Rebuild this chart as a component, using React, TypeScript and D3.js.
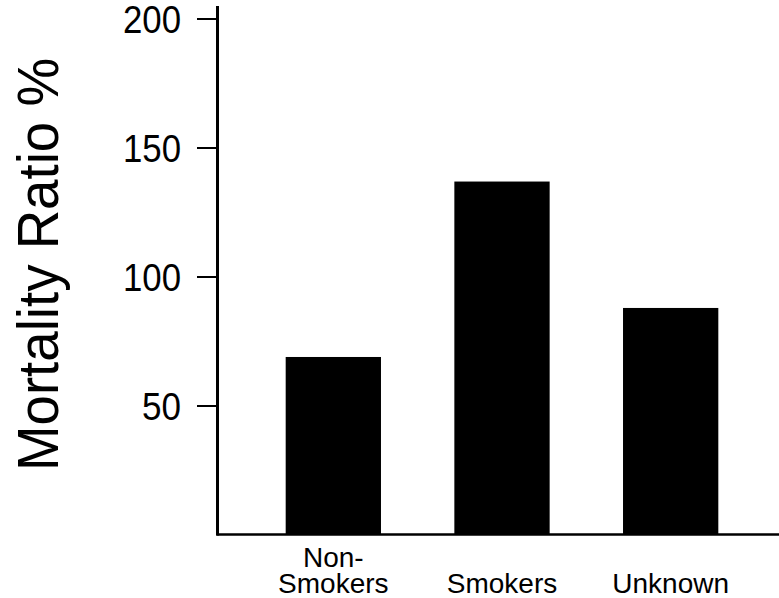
import React from "react";
import * as d3 from "d3";

const categories: string[][] = [["Non-", "Smokers"], ["Smokers"], ["Unknown"]];
const categoryKeys: string[] = ["Non-Smokers", "Smokers", "Unknown"];
const values: number[] = [69, 137, 88];
const yTicks: number[] = [50, 100, 150, 200];
const yTitle = "Mortality Ratio %";

const W = 779;
const H = 598;
const FONT = "'Liberation Sans', Arial, Helvetica, sans-serif";

export default function App() {
  const axisX = 217.5;
  const baseY = 534.5;
  const y = d3.scaleLinear().domain([0, 200]).range([535, 19]);
  const x = d3
    .scaleBand<string>()
    .domain(categoryKeys)
    .range([249, 755])
    .paddingInner(0.435)
    .paddingOuter(0.2175);

  return (
    <svg
      width={W}
      height={H}
      style={{ position: "absolute", left: 0, top: 0, display: "block", background: "#fff" }}
      fontFamily={FONT}
    >
      <rect x={0} y={0} width={W} height={H} fill="#fff" />
      {/* bars */}
      {categoryKeys.map((k, i) => (
        <rect
          key={k}
          x={x(k)}
          y={y(values[i])}
          width={x.bandwidth()}
          height={y(0) - y(values[i])}
          fill="#000"
        />
      ))}
      {/* y axis */}
      <line x1={axisX} x2={axisX} y1={6} y2={baseY + 1} stroke="#000" strokeWidth={3} />
      {yTicks.map((t) => (
        <g key={t}>
          <line x1={197} x2={axisX} y1={y(t)} y2={y(t)} stroke="#000" strokeWidth={2} />
          <text
            x={181}
            y={y(t)}
            dy="0.36em"
            textAnchor="end"
            fontSize={39}
            textLength={t >= 100 ? 58 : 39}
            lengthAdjust="spacingAndGlyphs"
            fill="#000"
          >
            {t}
          </text>
        </g>
      ))}
      {/* x baseline */}
      <line x1={axisX - 1} x2={W} y1={baseY} y2={baseY} stroke="#000" strokeWidth={2.5} />
      {/* category labels */}
      {categoryKeys.map((k, i) => {
        const cx = (x(k) as number) + x.bandwidth() / 2;
        const lines = categories[i];
        return (
          <text key={k} x={cx} textAnchor="middle" fontSize={28} fill="#000">
            {lines.map((l, j) => (
              <tspan key={j} x={cx} y={593 - (lines.length - 1 - j) * 26}>
                {l}
              </tspan>
            ))}
          </text>
        );
      })}
      {/* y title */}
      <text
        transform={`translate(58, 264.5) rotate(-90)`}
        textAnchor="middle"
        fontSize={58}
        textLength={413}
        lengthAdjust="spacingAndGlyphs"
        fill="#000"
      >
        {yTitle}
      </text>
    </svg>
  );
}
